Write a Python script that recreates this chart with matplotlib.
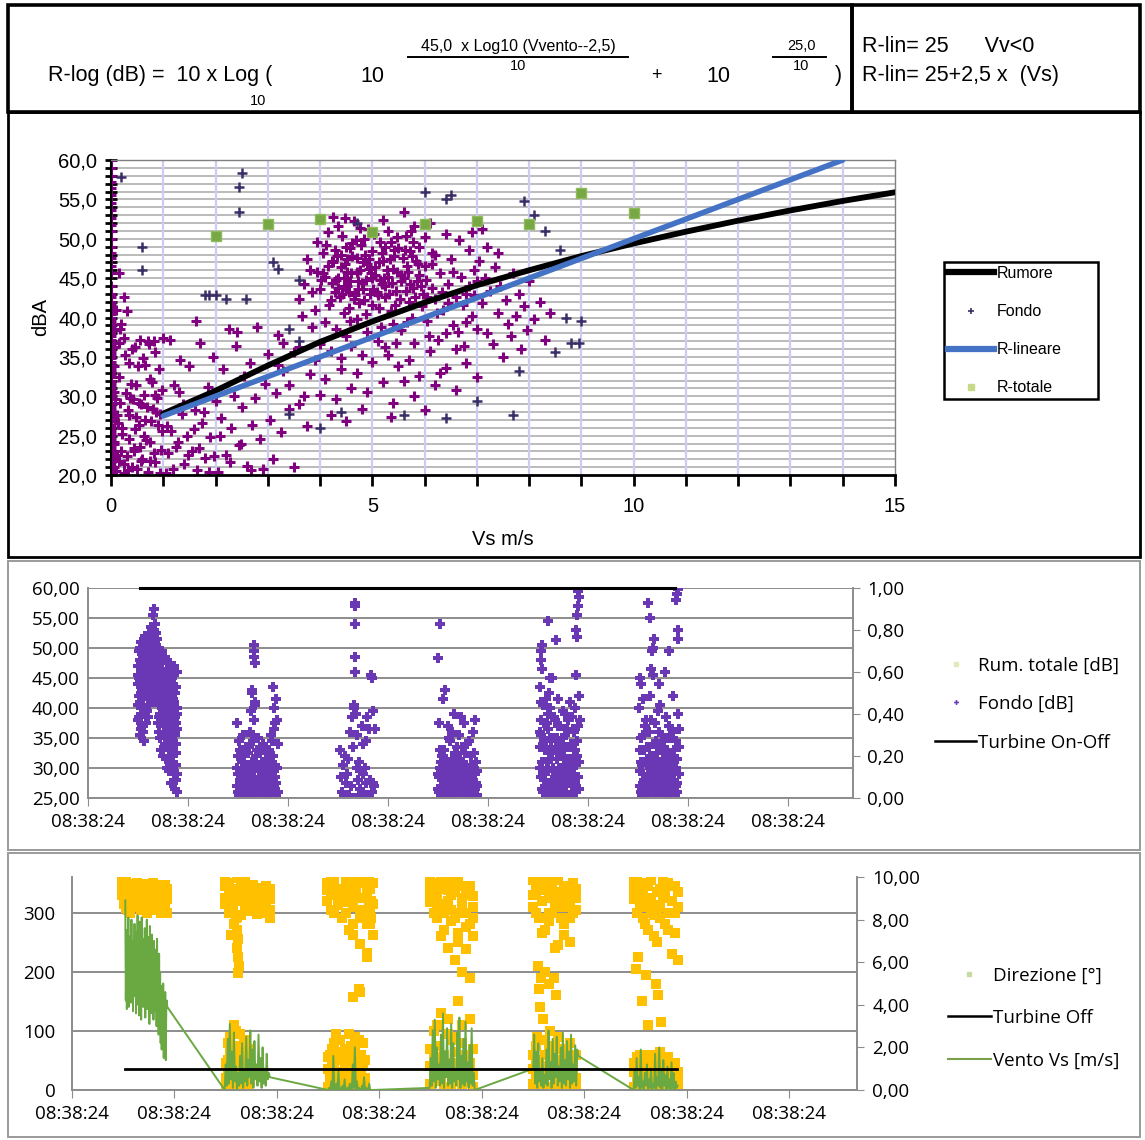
import numpy as np
import matplotlib
matplotlib.use('Agg')
import matplotlib.pyplot as plt
from matplotlib.lines import Line2D
from matplotlib.patches import Rectangle
from matplotlib.ticker import FuncFormatter, MultipleLocator

W, H = 1145, 1140

# ---------------------------------------------------------------- data: dB vs wind speed
vs_curve = [1, 2, 3, 4, 5, 6, 7, 8, 9, 10, 11, 12, 13, 14, 15]
rumore_db = [27.8, 30.7, 33.9, 36.9, 39.5, 41.9, 44.1, 46.0, 47.8, 49.4, 50.9, 52.3, 53.6, 54.8, 55.9]
rlin_vs = [1, 14]
rlin_db = [27.5, 60.0]
rtot_vs = [2, 3, 4, 5, 6, 7, 8, 9, 10]
rtot_db = [50.4, 51.9, 52.5, 50.8, 51.9, 52.2, 51.9, 55.8, 53.3]

col0_vs = 0.0
col0_db = [20.0, 20.4, 20.8, 21.2, 21.6, 22.0, 22.4, 22.8, 23.2, 23.6, 24.0, 24.4, 24.8, 25.2, 25.6,
           26.0, 26.4, 26.8, 27.2, 27.6, 28.0, 28.4, 28.8, 29.2, 29.6, 30.0, 30.4, 30.8, 31.2, 31.6,
           32.0, 32.4, 32.8, 33.2, 33.6, 34.0, 34.4, 34.8, 35.2, 35.6, 36.0, 36.4, 36.8, 37.2, 37.6,
           38.0, 38.4, 38.8, 39.2, 39.6, 40.0, 40.4, 40.8, 41.2, 41.6, 42.0, 42.6, 43.0, 44.0, 45.6,
           46.6, 47.6, 48.2, 49.0, 50.0, 51.0, 51.8, 52.6, 53.6, 54.6, 55.6, 56.4, 57.2, 58.0, 59.0, 60.0]

low_vs = [0.10, 0.15, 0.20, 0.25, 0.30, 0.35, 0.40, 0.45, 0.50, 0.55,
          0.60, 0.65, 0.70, 0.75, 0.80, 0.85, 0.90, 0.95, 0.12, 0.18,
          0.22, 0.28, 0.32, 0.38, 0.42, 0.48, 0.52, 0.58, 0.62, 0.68,
          0.72, 0.78, 0.82, 0.88, 0.92, 0.98, 0.15, 0.25, 0.35, 0.45,
          0.55, 0.65, 0.85, 0.20, 0.30, 0.15, 0.25, 0.10, 0.18, 0.40,
          1.05, 1.10, 1.15, 1.20, 1.25, 1.30, 1.35, 1.40, 1.45, 1.50,
          1.55, 1.60, 1.65, 1.70, 1.75, 1.80, 1.85, 1.90, 1.95, 2.00,
          2.05, 2.10, 2.15, 2.20, 2.25, 2.30, 2.35, 2.40, 2.45, 2.50,
          2.55, 2.60, 2.65, 2.70, 2.75, 2.80, 2.85, 2.90, 2.95, 3.00,
          3.05, 3.10, 3.15, 3.20, 3.25, 3.30, 3.40, 3.50, 3.60, 3.70,
          1.12, 1.32, 1.62, 2.42, 1.00, 0.70,
          0.05, 0.08, 0.12, 0.16, 0.22, 0.26, 0.33, 0.37, 0.44, 0.47,
          0.53, 0.57, 0.63, 0.67, 0.74, 0.77, 0.83, 0.87, 0.93, 0.97,
          0.14, 0.24, 0.34, 0.44, 0.54, 0.64, 0.74, 0.84, 0.94, 1.08,
          1.18, 1.28, 1.38, 1.48, 1.58, 1.68, 1.78, 1.88, 1.98, 2.08,
          2.28, 2.48, 2.68, 0.06, 0.06, 0.06, 0.06, 0.06, 0.06, 0.06]
low_db = [20.5, 21.8, 23.0, 20.2, 22.4, 24.6, 21.0, 25.8, 20.8, 23.6,
          22.0, 27.0, 20.4, 24.2, 28.4, 21.6, 26.4, 23.2, 27.6, 29.2,
          26.0, 30.4, 28.2, 31.6, 29.6, 27.4, 33.8, 29.0, 34.8, 28.6,
          36.6, 31.8, 37.0, 29.8, 33.4, 30.8, 36.8, 37.4, 34.2, 36.2,
          37.2, 34.0, 35.6, 39.2, 40.8, 45.6, 42.6, 41.0, 38.6, 36.0,
          20.2, 22.8, 25.6, 31.4, 23.6, 30.6, 27.8, 21.4, 25.0, 33.8,
          23.0, 28.2, 20.6, 36.8, 26.6, 22.2, 31.2, 24.8, 35.0, 29.4,
          20.4, 27.2, 33.4, 22.6, 38.6, 26.0, 30.0, 36.4, 23.8, 28.6,
          32.6, 21.2, 34.2, 26.4, 29.8, 38.8, 24.6, 20.8, 31.6, 35.4,
          27.0, 22.0, 30.4, 37.8, 25.4, 33.2, 28.4, 21.0, 36.2, 30.0,
          37.2, 34.6, 39.6, 38.2, 37.4, 37.0,
          24.0, 29.6, 22.6, 32.4, 25.2, 35.2, 20.6, 29.8, 23.4, 31.4,
          26.4, 21.8, 30.2, 24.4, 32.2, 26.8, 22.8, 28.0, 20.2, 25.6,
          26.6, 21.4, 27.6, 23.0, 29.2, 25.0, 21.8, 30.2, 27.8, 26.2,
          20.8, 24.2, 29.0, 22.6, 25.8, 23.4, 28.0, 20.4, 22.4, 25.0,
          21.6, 24.0, 20.6, 21.0, 24.2, 27.4, 30.6, 33.8, 36.2, 38.4]

cloud_vs = [3.60, 3.70, 3.80, 3.90, 4.00, 4.05, 4.10, 4.15, 4.20, 4.25,
            4.30, 4.35, 4.40, 4.45, 4.50, 4.55, 4.60, 4.65, 4.70, 4.75,
            4.80, 4.85, 4.90, 4.95, 5.00, 4.10, 4.30, 4.50, 4.70, 4.90,
            3.65, 3.85, 4.00, 4.20, 4.40, 4.60, 4.80, 3.75, 3.95, 4.25,
            4.45, 4.62, 4.78, 4.92, 4.15, 4.35, 4.55, 4.72, 4.88, 4.02,
            5.05, 5.10, 5.15, 5.20, 5.25, 5.30, 5.35, 5.40, 5.45, 5.50,
            5.55, 5.60, 5.65, 5.70, 5.75, 5.80, 5.85, 5.90, 5.95, 6.00,
            6.05, 6.10, 6.15, 6.20, 6.25, 6.30, 6.35, 6.40, 6.45, 6.50,
            6.55, 6.60, 6.65, 6.70, 6.75, 6.80, 6.85, 6.90, 6.95, 7.00,
            5.10, 5.30, 5.50, 5.70, 5.90, 6.10, 6.30, 5.20, 5.60, 5.80,
            6.00, 6.20, 6.40, 6.60, 6.80, 7.00, 5.40, 5.00, 5.25, 5.75,
            7.05, 7.10, 7.15, 7.20, 7.25, 7.30, 7.35, 7.40, 7.45, 7.50,
            7.55, 7.60, 7.65, 7.70, 7.75, 7.80, 7.85, 7.90, 7.95, 8.00,
            8.10, 8.20, 8.30, 8.40, 7.20, 7.40, 6.90, 7.10,
            3.20, 3.40, 3.60, 3.80, 4.00, 4.20, 4.40, 4.60, 4.80, 5.00,
            3.30, 3.50, 3.90, 4.10, 4.30, 4.50, 4.70, 4.90, 5.20, 5.40,
            5.60, 5.80, 6.00, 6.20, 6.40, 6.60, 6.80, 7.00, 3.75, 5.35,
            4.28, 4.38, 4.48, 4.58, 4.68, 4.82, 4.98, 5.08, 5.18, 5.28,
            5.38, 5.48, 5.58, 5.68, 5.78, 5.88, 4.42, 4.52, 4.66, 4.76,
            4.86, 4.96, 5.12, 5.22, 5.32, 5.42, 5.52, 5.62, 5.72, 5.82,
            4.05, 4.12, 4.22, 4.32, 4.42, 4.52, 4.62, 4.72, 4.84, 4.94,
            5.04, 5.14, 5.24, 5.34, 5.44, 5.54, 5.64, 5.74, 5.84, 5.94,
            6.04, 6.14, 6.24, 6.34, 6.44, 6.54, 6.64, 6.74, 6.84, 6.94,
            3.85, 3.95, 4.18, 4.48, 4.58, 5.02, 5.16, 5.46, 5.66, 6.08,
            4.22, 4.34, 4.46, 4.58, 4.70, 4.82, 4.94, 5.06, 5.18, 5.30,
            5.42, 5.54, 5.66, 5.78, 5.90, 6.02, 6.14, 4.28, 4.52, 4.76,
            5.00, 5.24, 5.48, 5.72, 5.96, 4.40, 4.64, 4.88, 5.12, 5.36]
cloud_db = [42.4, 44.2, 46.0, 41.0, 43.6, 48.2, 45.2, 50.8, 42.2, 47.0,
            44.8, 51.6, 46.4, 40.6, 49.0, 43.2, 45.6, 52.2, 47.6, 41.8,
            44.4, 50.0, 46.8, 43.0, 48.4, 39.4, 38.6, 37.6, 39.8, 38.2,
            40.2, 38.8, 36.6, 35.8, 34.8, 36.4, 35.2, 47.4, 49.6, 52.8,
            45.0, 47.8, 49.2, 51.2, 46.6, 43.8, 41.2, 43.6, 40.4, 44.8,
            45.4, 42.8, 49.6, 47.2, 44.0, 51.0, 40.8, 46.2, 43.4, 48.8,
            38.4, 45.0, 50.4, 42.0, 47.8, 36.8, 44.6, 49.0, 41.4, 46.6,
            39.6, 52.0, 43.8, 48.0, 37.2, 45.6, 41.0, 50.6, 44.2, 47.4,
            39.0, 42.6, 49.8, 45.2, 36.4, 43.0, 48.6, 40.2, 46.0, 38.6,
            37.0, 35.2, 33.8, 34.6, 32.6, 35.8, 33.0, 52.4, 53.4, 51.6,
            50.2, 42.4, 38.0, 36.0, 39.4, 44.6, 39.2, 41.6, 36.2, 40.0,
            47.2, 41.8, 45.0, 38.0, 43.4, 36.6, 46.4, 40.6, 44.0, 35.0,
            42.2, 39.2, 37.6, 45.6, 40.2, 43.0, 36.0, 41.4, 38.4, 44.6,
            39.8, 42.0, 37.2, 40.6, 49.0, 48.2, 50.8, 51.2,
            34.0, 31.4, 29.0, 32.8, 30.2, 27.6, 33.4, 31.0, 28.4, 34.4,
            36.8, 35.6, 34.6, 32.2, 29.6, 26.8, 33.0, 30.6, 31.8, 29.2,
            32.0, 30.0, 28.2, 31.4, 33.6, 30.8, 34.2, 32.4, 26.2, 27.4,
            48.6, 42.6, 46.8, 44.6, 49.8, 47.0, 45.6, 43.2, 48.2, 46.0,
            44.4, 50.2, 47.6, 45.8, 49.6, 46.8, 50.4, 44.0, 42.8, 51.4,
            48.0, 46.2, 41.2, 45.0, 43.0, 47.8, 42.4, 48.6, 44.2, 42.6,
            45.6, 49.2, 44.4, 47.8, 43.0, 45.8, 49.4, 44.6, 42.2, 46.2,
            50.6, 44.8, 49.0, 47.4, 41.6, 45.4, 43.4, 51.0, 47.2, 44.0,
            42.6, 46.8, 40.6, 43.2, 41.8, 45.8, 38.2, 41.6, 44.0, 42.8,
            43.2, 45.8, 41.6, 52.6, 39.6, 43.6, 38.8, 36.8, 39.4, 37.6,
            47.2, 45.0, 44.0, 48.8, 45.8, 43.6, 47.4, 46.4, 44.2, 45.2,
            48.6, 44.6, 46.6, 43.8, 45.4, 44.8, 48.2, 43.2, 47.4, 46.0,
            45.0, 42.6, 45.8, 48.4, 43.0, 48.0, 42.4, 44.8, 47.0, 49.6]

dark_vs = [0.20, 0.60, 0.60, 2.50, 2.45, 2.45, 3.10, 3.20, 3.60, 4.70,
           6.00, 6.40, 6.50, 7.90, 8.10, 8.30, 8.60, 8.70, 9.00, 8.95,
           8.50, 8.80, 7.80, 7.00, 7.70, 6.40, 5.60, 4.40, 4.00, 1.80,
           2.00, 2.20, 1.88, 2.58, 3.40, 3.60, 3.40]
dark_db = [57.8, 49.0, 46.0, 58.4, 56.6, 53.4, 47.0, 46.2, 44.8, 52.0,
           56.0, 55.0, 55.6, 54.8, 53.0, 51.0, 48.6, 40.0, 39.6, 36.8,
           35.6, 36.8, 33.2, 29.4, 27.6, 27.2, 27.6, 28.0, 26.0, 42.8,
           42.8, 42.4, 42.8, 42.4, 38.6, 37.0, 27.8]

# ---------------------------------------------------------------- data: time panels
time_labels = ['08:38:24', '08:38:24', '08:38:24', '08:38:24',
               '08:38:24', '08:38:24', '08:38:24', '08:38:24']

turb_on_t = [0.52, 5.87]
turb_on_v = [1.0, 1.0]
turb_off_t = [0.52, 5.90]
turb_off_v = [1.0, 1.0]

t_1a = [0.50, 0.51, 0.52, 0.53, 0.54, 0.55, 0.56, 0.57, 0.58, 0.59,
        0.60, 0.61, 0.62, 0.63, 0.64, 0.65, 0.66, 0.67, 0.68, 0.69]
db_1a = [[44.0, 49.5, 41.0, 47.5, 37.0, 50.5, 45.0, 43.0, 51.0, 39.5, 48.0, 52.5, 46.0, 53.5, 44.5, 55.5, 49.0, 54.0, 47.0, 51.5],
         [47.0, 38.5, 50.0, 42.5, 46.0, 36.0, 48.5, 40.0, 44.0, 47.5, 42.0, 45.5, 50.0, 41.0, 48.5, 46.0, 56.5, 43.5, 50.5, 45.0],
         [40.5, 45.0, 35.5, 51.0, 43.0, 46.5, 34.5, 49.0, 46.5, 43.0, 45.0, 40.5, 43.0, 49.5, 52.0, 42.5, 46.0, 51.0, 42.0, 48.0],
         [45.5, 42.0, 48.0, 39.0, 44.0, 41.5, 50.0, 47.0, 37.5, 45.5, 51.0, 43.0, 47.5, 52.0, 41.0, 50.0, 53.0, 46.5, 44.0, 49.0],
         [38.0, 47.0, 44.5, 36.5, 49.0, 43.5, 40.0, 52.0, 42.5, 49.5, 38.5, 48.5, 44.0, 45.5, 47.0, 53.0, 51.5, 48.5, 52.5, 43.5]]
t_1b = [0.70, 0.71, 0.72, 0.73, 0.74, 0.75, 0.76, 0.77, 0.78, 0.79,
        0.80, 0.81, 0.82, 0.83, 0.84, 0.85, 0.86, 0.87, 0.88, 0.89]
db_1b = [[50.0, 44.0, 47.5, 41.0, 49.5, 38.0, 45.5, 43.0, 48.0, 36.5, 42.0, 46.5, 39.0, 44.5, 35.0, 41.5, 47.0, 38.5, 43.5, 40.0],
         [42.5, 47.0, 39.0, 45.0, 35.5, 48.5, 41.0, 37.5, 44.0, 40.0, 33.5, 38.0, 43.0, 31.0, 37.0, 34.0, 45.5, 36.0, 32.5, 46.0],
         [46.0, 38.5, 43.5, 33.0, 42.0, 44.5, 36.0, 40.5, 31.5, 46.5, 38.5, 29.5, 35.5, 41.0, 33.0, 39.5, 29.0, 42.5, 28.0, 36.5],
         [37.5, 40.5, 35.0, 48.0, 39.0, 32.0, 46.0, 34.0, 38.5, 30.0, 44.0, 36.5, 31.5, 27.5, 43.5, 30.5, 38.0, 26.5, 34.0, 26.0],
         [44.5, 41.5, 49.0, 37.5, 46.0, 42.5, 39.5, 48.5, 35.0, 43.0, 40.5, 33.0, 47.5, 37.5, 45.0, 32.0, 41.0, 35.5, 30.5, 39.0],
         [48.5, 36.0, 45.5, 43.0, 40.5, 46.0, 33.5, 44.5, 42.0, 38.0, 46.0, 42.5, 36.5, 34.5, 39.5, 36.0, 32.5, 40.0, 37.5, 29.0]]
t_2a = [1.49, 1.50, 1.51, 1.52, 1.53, 1.54, 1.55, 1.56, 1.57, 1.58,
        1.59, 1.60, 1.61, 1.62, 1.63, 1.64, 1.65, 1.66, 1.67, 1.68]
db_2a = [[37.5, 32.0, 27.0, 29.5, 25.5, 31.0, 35.5, 26.5, 28.0, 33.5, 25.5, 30.0, 27.5, 36.0, 29.0, 42.5, 34.5, 38.0, 41.0, 30.5],
         [30.0, 26.0, 34.5, 28.0, 31.5, 26.5, 29.0, 32.5, 27.0, 25.5, 30.5, 28.5, 33.5, 27.0, 39.5, 31.0, 25.5, 49.5, 47.5, 26.5],
         [27.0, 29.0, 25.5, 33.0, 27.5, 29.5, 26.0, 31.0, 25.5, 28.5, 27.0, 32.5, 25.5, 29.5, 26.5, 35.5, 28.0, 30.0, 26.0, 32.0]]
t_2b = [1.69, 1.70, 1.71, 1.72, 1.73, 1.74, 1.75, 1.76, 1.77, 1.78,
        1.79, 1.80, 1.81, 1.82, 1.83, 1.84, 1.85, 1.86, 1.87, 1.88]
db_2b = [[28.0, 35.0, 26.0, 32.5, 29.5, 27.0, 34.0, 30.5, 25.5, 31.5, 28.5, 26.5, 33.0, 29.0, 35.5, 27.0, 43.5, 40.0, 37.5, 41.5],
         [33.0, 26.5, 29.5, 27.5, 25.5, 31.0, 26.0, 28.0, 30.0, 27.0, 25.5, 29.0, 26.5, 31.5, 27.5, 34.5, 30.0, 36.5, 28.5, 25.5],
         [26.0, 30.5, 27.5, 25.5, 28.5, 33.5, 27.0, 25.5, 29.0, 32.5, 26.5, 30.0, 28.0, 25.5, 30.5, 26.0, 32.0, 27.0, 30.5, 27.5]]
t_3 = [2.52, 2.53, 2.54, 2.55, 2.56, 2.57, 2.58, 2.59, 2.60, 2.61,
       2.62, 2.63, 2.64, 2.65, 2.66, 2.67, 2.68, 2.69, 2.70, 2.71,
       2.72, 2.73, 2.74, 2.75, 2.76, 2.77, 2.78, 2.79, 2.80, 2.81,
       2.82, 2.83, 2.84, 2.85, 2.86, 2.87, 2.67, 2.67, 2.67, 2.67]
db_3 = [33.0, 28.5, 26.0, 30.5, 25.5, 32.0, 27.5, 29.0, 31.5, 25.5,
        36.0, 27.0, 38.5, 33.5, 40.0, 57.5, 39.0, 35.5, 28.0, 31.0,
        26.5, 29.5, 37.0, 34.0, 25.5, 30.0, 27.5, 38.5, 25.5, 36.5,
        28.0, 45.5, 26.0, 39.5, 27.0, 36.5, 57.0, 54.0, 48.5, 46.0]
t_4a = [3.50, 3.51, 3.52, 3.53, 3.54, 3.55, 3.56, 3.57, 3.58, 3.59,
        3.60, 3.61, 3.62, 3.63, 3.64, 3.65, 3.66, 3.67, 3.68, 3.69]
db_4a = [[48.3, 37.5, 33.0, 27.0, 30.0, 41.5, 26.0, 43.0, 31.5, 28.5, 37.0, 25.5, 34.5, 29.0, 36.0, 27.5, 39.0, 30.5, 26.0, 33.5],
         [29.0, 26.0, 54.0, 31.0, 28.0, 25.5, 33.0, 29.5, 27.0, 25.5, 30.5, 35.0, 27.5, 26.0, 31.5, 28.0, 25.5, 32.5, 29.0, 27.5],
         [26.5, 28.5, 30.0, 25.5, 32.0, 27.0, 29.5, 25.5, 28.0, 30.5, 26.5, 29.0, 31.0, 25.5, 27.0, 30.0, 28.5, 26.0, 29.5, 31.5]]
t_4b = [3.70, 3.71, 3.72, 3.73, 3.74, 3.75, 3.76, 3.77, 3.78, 3.79,
        3.80, 3.81, 3.82, 3.83, 3.84, 3.85, 3.86, 3.87, 3.88, 3.89]
db_4b = [[28.0, 35.5, 25.5, 38.5, 31.0, 27.0, 37.5, 29.5, 26.0, 34.0, 30.0, 25.5, 28.5, 32.0, 27.0, 36.0, 29.0, 26.5, 31.0, 25.5],
         [31.0, 26.5, 29.5, 27.0, 33.5, 25.5, 28.5, 26.0, 30.5, 27.0, 25.5, 34.5, 29.5, 26.0, 28.0, 30.5, 25.5, 38.0, 27.5, 29.5],
         [26.0, 29.0, 31.5, 25.5, 28.0, 30.0, 26.5, 32.5, 28.5, 25.5, 29.0, 27.5, 25.5, 30.5, 26.5, 28.0, 32.5, 29.0, 25.5, 27.0]]
t_5a = [4.52, 4.53, 4.54, 4.55, 4.56, 4.57, 4.58, 4.59, 4.60, 4.61,
        4.62, 4.63, 4.64, 4.65, 4.66, 4.67, 4.68, 4.69, 4.70, 4.71]
db_5a = [[43.5, 38.0, 50.5, 29.0, 34.5, 26.5, 41.5, 31.0, 36.5, 27.5, 40.0, 33.5, 45.0, 29.5, 38.5, 26.0, 51.3, 35.0, 41.5, 30.0],
         [30.0, 35.5, 26.5, 40.5, 28.0, 33.0, 25.5, 37.5, 30.0, 42.5, 26.5, 31.5, 28.0, 35.0, 25.5, 33.0, 29.5, 27.0, 37.0, 25.5],
         [33.5, 28.5, 31.0, 26.0, 37.5, 29.0, 33.5, 27.0, 39.0, 31.5, 35.0, 25.5, 32.5, 30.0, 27.5, 38.0, 25.5, 31.5, 28.5, 34.0]]
t_5b = [4.72, 4.73, 4.74, 4.75, 4.76, 4.77, 4.78, 4.79, 4.80, 4.81,
        4.82, 4.83, 4.84, 4.85, 4.86, 4.87, 4.88, 4.89, 4.90, 4.91]
db_5b = [[37.0, 27.5, 33.0, 39.5, 28.5, 35.5, 26.0, 31.5, 38.0, 29.0, 41.0, 34.0, 27.0, 36.5, 32.0, 40.0, 53.0, 51.8, 57.0, 42.0],
         [29.5, 32.5, 25.5, 30.0, 27.0, 39.0, 33.5, 28.0, 25.5, 30.5, 27.5, 29.5, 31.0, 25.5, 36.0, 27.5, 30.5, 34.5, 28.5, 31.0],
         [33.0, 26.5, 30.0, 35.0, 31.5, 25.5, 29.5, 36.5, 27.5, 33.5, 29.0, 25.5, 38.5, 30.0, 28.5, 33.0, 26.5, 32.0, 37.0, 26.5]]
t_6a = [5.52, 5.53, 5.54, 5.55, 5.56, 5.57, 5.58, 5.59, 5.60, 5.61,
        5.62, 5.63, 5.64, 5.65, 5.66, 5.67, 5.68, 5.69, 5.70, 5.71]
db_6a = [[29.5, 35.0, 26.5, 41.5, 31.0, 27.5, 38.0, 33.5, 25.5, 36.0, 42.0, 30.0, 28.0, 45.5, 34.0, 37.5, 26.0, 32.5, 39.5, 44.0],
         [27.0, 31.0, 25.5, 29.0, 33.0, 26.0, 28.5, 30.5, 27.5, 25.5, 32.0, 26.0, 29.5, 27.0, 30.5, 25.5, 28.5, 26.5, 31.0, 27.5],
         [33.0, 26.0, 30.5, 35.5, 28.0, 37.0, 25.5, 31.0, 29.0, 33.5, 26.5, 38.0, 31.5, 34.0, 28.5, 30.0, 34.5, 29.5, 27.0, 36.0]]
t_6b = [5.72, 5.73, 5.74, 5.75, 5.76, 5.77, 5.78, 5.79, 5.80, 5.81,
        5.82, 5.83, 5.84, 5.85, 5.86, 5.87, 5.88, 5.89, 5.90, 5.91]
db_6b = [[40.5, 28.5, 35.5, 31.0, 27.0, 46.0, 29.5, 33.0, 25.5, 37.0, 30.5, 27.5, 35.0, 42.0, 28.0, 31.5, 34.5, 26.0, 51.5, 36.5],
         [30.0, 25.5, 27.5, 32.5, 26.0, 29.0, 25.5, 27.0, 30.0, 28.0, 25.5, 29.0, 26.5, 31.5, 27.0, 25.5, 30.0, 27.5, 53.0, 29.0],
         [27.5, 33.5, 30.0, 26.5, 34.5, 31.5, 38.5, 29.5, 35.0, 25.5, 32.0, 30.5, 28.0, 36.0, 33.0, 29.5, 27.0, 31.5, 39.0, 33.5]]
t_extra = [1.66, 1.66, 1.64, 1.67, 1.89, 1.90, 1.89, 1.90,
           2.66, 2.69, 2.71, 2.75, 2.78, 2.84, 2.85,
           4.53, 4.53, 4.54, 4.60, 4.62, 4.90, 4.91, 4.89, 4.88, 4.92, 4.53, 4.52,
           5.60, 5.62, 5.65, 5.64, 5.66, 5.63, 5.90, 5.89, 5.88, 5.81, 5.52, 5.51, 5.53]
db_extra = [50.5, 48.5, 43.0, 40.5, 38.0, 34.0, 30.0, 26.0,
            40.5, 30.0, 25.5, 29.0, 34.5, 45.0, 27.5,
            49.5, 48.0, 46.5, 54.5, 45.0, 59.5, 58.5, 55.5, 45.5, 38.0, 41.0, 36.0,
            57.5, 55.0, 50.0, 49.5, 51.5, 46.5, 59.8, 59.0, 58.0, 49.5, 45.0, 40.0, 44.0]

# wind direction (deg)
dir_t1 = [0.49, 0.51, 0.53, 0.55, 0.57, 0.59, 0.61, 0.63, 0.65, 0.67, 0.69, 0.71,
          0.73, 0.75, 0.77, 0.79, 0.81, 0.83, 0.85, 0.87, 0.89, 0.91, 0.93]
dir_1 = [[352, 340, 355, 330, 348, 338, 344, 350, 335, 346, 341, 349, 337, 345, 333, 350, 342, 347, 336, 344, 339, 346, 340],
         [330, 315, 322, 305, 318, 326, 310, 322, 314, 328, 318, 306, 324, 312, 320, 304, 316, 325, 308, 322, 314, 318, 300],
         [342, 325, 308, 335, 300, 312, 332, 336, 325, 305, 333, 320, 300, 330, 345, 318, 328, 308, 320, 300, 328, 306, 322]]
dir_t2u = [1.49, 1.53, 1.57, 1.61, 1.65, 1.69, 1.73, 1.77, 1.81, 1.85, 1.89, 1.93]
dir_2u = [[355, 350, 340, 358, 345, 352, 338, 347, 341, 330, 335, 322],
          [325, 338, 318, 330, 320, 312, 325, 315, 328, 310, 318, 305],
          [345, 300, 330, 292, 338, 326, 302, 340, 298, 322, 345, 290],
          [315, 348, 305, 340, 295, 355, 310, 330, 318, 300, 325, 340]]
dir_t2l = [1.50, 1.52, 1.54, 1.56, 1.58, 1.60, 1.62, 1.64, 1.66, 1.68, 1.70, 1.72, 1.74]
dir_2l = [[45, 80, 20, 60, 110, 10, 35, 95, 5, 55, 25, 70, 15],
          [5, 30, 65, 3, 40, 75, 15, 50, 2, 85, 30, 10, 45],
          [20, 50, 90, 30, 70, 100, 45, 10, 60, 25, 40, 5, 60]]
dir_t3u = [2.49, 2.53, 2.56, 2.60, 2.63, 2.67, 2.70, 2.74, 2.77, 2.81, 2.84, 2.88, 2.91, 2.94]
dir_3u = [[350, 330, 356, 312, 340, 300, 352, 280, 325, 246, 295, 232, 340, 262],
          [320, 352, 300, 340, 318, 335, 270, 310, 352, 290, 355, 225, 305, 350],
          [338, 305, 342, 325, 290, 355, 318, 262, 338, 305, 325, 345, 280, 315]]
dir_t3l = [2.50, 2.52, 2.54, 2.56, 2.58, 2.60, 2.62, 2.64, 2.66, 2.68,
           2.70, 2.72, 2.74, 2.76, 2.78, 2.80, 2.82, 2.84, 2.86]
dir_3l = [[35, 60, 10, 80, 25, 5, 50, 15, 70, 40, 95, 20, 60, 5, 30, 85, 10, 45, 20],
          [5, 20, 45, 2, 65, 30, 85, 8, 35, 3, 55, 10, 25, 75, 2, 40, 60, 5, 15],
          [55, 15, 70, 40, 95, 50, 20, 65, 10, 55, 25, 75, 40, 90, 55, 20, 35, 80, 50]]
dir_t4 = [3.49, 3.53, 3.56, 3.60, 3.63, 3.67, 3.70, 3.74, 3.77, 3.81, 3.84, 3.88, 3.91]
dir_4 = [[355, 330, 345, 300, 350, 320, 338, 290, 355, 310, 342, 280, 328],
         [318, 350, 290, 340, 270, 355, 305, 335, 250, 325, 300, 345, 260],
         [340, 300, 325, 260, 315, 240, 330, 220, 300, 200, 275, 190, 310],
         [332, 345, 310, 355, 300, 338, 285, 350, 265, 345, 238, 330, 290],
         [40, 100, 15, 130, 60, 5, 85, 30, 150, 10, 55, 120, 25],
         [10, 55, 75, 20, 35, 95, 3, 65, 40, 80, 15, 45, 5],
         [70, 25, 110, 50, 5, 120, 45, 90, 20, 110, 60, 30, 70]]
dir_t5 = [4.50, 4.53, 4.56, 4.59, 4.62, 4.65, 4.68, 4.71, 4.74, 4.77, 4.80, 4.83, 4.86, 4.89, 4.92]
dir_5 = [[355, 335, 348, 320, 352, 300, 340, 315, 355, 290, 345, 330, 310, 350, 325],
         [310, 350, 290, 340, 270, 325, 300, 355, 245, 335, 280, 315, 250, 300, 340],
         [330, 300, 355, 265, 338, 285, 352, 240, 325, 310, 262, 345, 290, 330, 305],
         [60, 20, 85, 40, 5, 70, 30, 15, 90, 50, 10, 65, 25, 45, 5],
         [10, 45, 5, 30, 60, 2, 40, 75, 20, 5, 35, 15, 55, 8, 20],
         [35, 75, 50, 15, 85, 25, 60, 45, 5, 70, 55, 30, 80, 35, 60]]
dir_t6 = [5.48, 5.51, 5.54, 5.57, 5.59, 5.62, 5.65, 5.68, 5.71, 5.74, 5.77, 5.79, 5.82, 5.85, 5.88, 5.91]
dir_6 = [[355, 340, 350, 330, 345, 320, 355, 312, 300, 340, 355, 335, 350, 320, 345, 310],
         [322, 300, 330, 290, 310, 270, 300, 260, 250, 290, 325, 280, 300, 230, 265, 220],
         [340, 355, 315, 350, 280, 345, 325, 295, 335, 310, 340, 350, 270, 345, 300, 335],
         [45, 20, 60, 10, 35, 55, 5, 40, 25, 65, 15, 50, 30, 5, 45, 20],
         [5, 35, 15, 50, 2, 25, 45, 8, 60, 3, 40, 10, 55, 20, 2, 30],
         [30, 55, 5, 40, 20, 60, 15, 50, 35, 10, 55, 25, 5, 40, 30, 10]]
dir_extra_t = [1.60, 1.61, 1.62, 1.61, 1.62, 1.63, 1.62, 1.58, 1.55,
               2.86, 2.88, 2.90, 2.92, 2.88, 2.90, 2.92, 2.74, 2.80, 2.81,
               4.55, 4.58, 4.56, 4.62, 4.65, 4.57, 4.60, 4.70, 4.72, 4.66, 4.54,
               5.50, 5.52, 5.60, 5.70, 5.72, 5.62, 5.75, 5.56]
dir_extra = [290, 270, 255, 240, 225, 210, 198, 280, 262,
             350, 330, 310, 290, 280, 355, 320, 158, 170, 165,
             210, 190, 170, 200, 180, 140, 120, 190, 160, 100, 90,
             205, 225, 195, 180, 160, 110, 115, 150]

# wind speed (m/s)
wind_t1 = [0.520, 0.525, 0.530, 0.535, 0.540, 0.545, 0.550, 0.555, 0.560, 0.565,
           0.570, 0.575, 0.580, 0.585, 0.590, 0.595, 0.600, 0.605, 0.610, 0.615,
           0.620, 0.625, 0.630, 0.635, 0.640, 0.645, 0.650, 0.655, 0.660, 0.665,
           0.670, 0.675, 0.680, 0.685, 0.690, 0.695, 0.700, 0.705, 0.710, 0.715,
           0.720, 0.725, 0.730, 0.735, 0.740, 0.745, 0.750, 0.755, 0.760, 0.765,
           0.770, 0.775, 0.780, 0.785, 0.790, 0.795, 0.800, 0.805, 0.810, 0.815,
           0.820, 0.825, 0.830, 0.835, 0.840, 0.845, 0.850, 0.855, 0.860, 0.865,
           0.870, 0.875, 0.880, 0.885, 0.890, 0.895, 0.900, 0.905, 0.910, 0.915,
           0.920, 0.925, 0.930]
wind_1 = [8.9, 4.2, 7.5, 3.8, 6.9, 4.8, 8.1, 3.9, 7.2, 5.0, 6.4, 4.1, 8.0, 4.6, 7.0, 3.7, 6.6, 5.2, 7.8, 4.4,
          6.1, 3.6, 7.4, 4.9, 8.2, 4.0, 6.8, 3.5, 7.9, 4.7, 6.3, 3.3, 8.1, 4.5, 7.1, 3.9, 6.0, 4.8, 7.6, 3.4,
          6.9, 4.3, 8.0, 3.8, 7.2, 4.6, 6.5, 3.1, 7.7, 4.0, 6.2, 3.6, 7.3, 4.2, 5.9, 3.3, 7.0, 4.4, 6.1, 3.7,
          6.6, 3.0, 7.1, 3.9, 5.8, 2.6, 6.4, 3.2, 5.5, 2.2, 4.9, 1.9, 4.4, 3.0, 5.0, 1.5, 4.0, 2.4, 4.6, 1.4,
          3.8, 4.2, 3.9]
wind_t2 = [1.49, 1.50, 1.51, 1.52, 1.53, 1.54, 1.55, 1.56, 1.57, 1.58,
           1.59, 1.60, 1.61, 1.62, 1.63, 1.64, 1.65, 1.66, 1.67, 1.68,
           1.69, 1.70, 1.71, 1.72, 1.73, 1.74, 1.75, 1.76, 1.77, 1.78,
           1.79, 1.80, 1.81, 1.82, 1.83, 1.84, 1.85, 1.86, 1.87, 1.88,
           1.89, 1.90, 1.91, 1.92, 1.93]
wind_2 = [0.0, 1.2, 0.2, 2.4, 0.3, 3.1, 0.5, 1.8, 0.1, 2.7, 0.4, 1.1, 0.0, 0.8, 0.2, 1.6, 0.3, 2.2, 0.1, 0.9,
          0.4, 2.5, 0.2, 1.4, 0.6, 2.8, 0.3, 1.9, 0.1, 2.3, 0.5, 1.2, 0.2, 2.6, 0.4, 1.5, 0.1, 2.0, 0.3, 1.0,
          0.2, 1.7, 0.5, 0.8, 0.6]
wind_t3 = [2.50, 2.51, 2.52, 2.53, 2.54, 2.55, 2.56, 2.57, 2.58, 2.59,
           2.60, 2.61, 2.62, 2.63, 2.64, 2.65, 2.66, 2.67, 2.68, 2.69,
           2.70, 2.71, 2.72, 2.73, 2.74, 2.75, 2.76, 2.77, 2.78, 2.79,
           2.80, 2.81, 2.82, 2.83, 2.84, 2.85, 2.86, 2.87, 2.88, 2.89,
           2.90, 2.91, 2.92, 2.93]
wind_3 = [0.0, 0.1, 0.0, 0.4, 0.0, 1.6, 0.1, 0.0, 0.3, 0.0, 0.9, 0.0, 0.1, 0.0, 0.2, 0.0, 0.5, 0.0, 0.0, 0.1,
          0.0, 0.3, 0.0, 0.0, 1.2, 0.1, 2.0, 0.0, 0.4, 0.0, 0.1, 0.0, 0.0, 0.2, 0.0, 0.6, 0.0, 0.1, 0.0, 0.0,
          0.3, 0.0, 0.0, 0.0]
wind_t4 = [3.49, 3.50, 3.51, 3.52, 3.53, 3.54, 3.55, 3.56, 3.57, 3.58,
           3.59, 3.60, 3.61, 3.62, 3.63, 3.64, 3.65, 3.66, 3.67, 3.68,
           3.69, 3.70, 3.71, 3.72, 3.73, 3.74, 3.75, 3.76, 3.77, 3.78,
           3.79, 3.80, 3.81, 3.82, 3.83, 3.84, 3.85, 3.86, 3.87, 3.88,
           3.89, 3.90, 3.91, 3.92, 3.93]
wind_4 = [0.1, 1.5, 0.2, 2.8, 0.4, 3.3, 0.1, 2.0, 0.5, 1.2, 0.2, 2.6, 0.3, 3.6, 0.1, 1.8, 0.6, 2.9, 0.2, 1.4,
          0.3, 3.1, 0.1, 2.2, 0.4, 1.0, 0.2, 2.7, 0.5, 3.4, 0.1, 1.6, 0.3, 2.4, 0.2, 3.2, 0.4, 1.3, 0.1, 2.1,
          0.3, 2.9, 0.2, 0.8, 0.0]
wind_t5 = [4.50, 4.51, 4.52, 4.53, 4.54, 4.55, 4.56, 4.57, 4.58, 4.59,
           4.60, 4.61, 4.62, 4.63, 4.64, 4.65, 4.66, 4.67, 4.68, 4.69,
           4.70, 4.71, 4.72, 4.73, 4.74, 4.75, 4.76, 4.77, 4.78, 4.79,
           4.80, 4.81, 4.82, 4.83, 4.84, 4.85, 4.86, 4.87, 4.88, 4.89,
           4.90, 4.91, 4.92, 4.93, 4.94]
wind_5 = [1.0, 2.6, 0.3, 1.8, 0.1, 2.2, 0.4, 1.0, 0.2, 1.5, 0.1, 0.7, 0.3, 1.9, 0.2, 2.8, 0.5, 1.3, 0.1, 2.4,
          0.3, 1.7, 0.6, 2.5, 0.2, 1.1, 0.4, 2.0, 0.1, 2.7, 0.3, 1.4, 0.2, 2.3, 0.5, 1.8, 0.1, 2.6, 0.3, 1.2,
          0.4, 2.1, 0.2, 1.9, 1.6]
wind_t6 = [5.48, 5.49, 5.50, 5.51, 5.52, 5.53, 5.54, 5.55, 5.56, 5.57,
           5.58, 5.59, 5.60, 5.61, 5.62, 5.63, 5.64, 5.65, 5.66, 5.67,
           5.68, 5.69, 5.70, 5.71, 5.72, 5.73, 5.74, 5.75, 5.76, 5.77,
           5.78, 5.79, 5.80, 5.81, 5.82, 5.83, 5.84, 5.85, 5.86, 5.87,
           5.88, 5.89, 5.90, 5.91]
wind_6 = [0.0, 0.9, 0.1, 1.5, 0.2, 0.6, 0.0, 1.9, 0.1, 0.4, 0.0, 0.8, 0.2, 1.2, 0.0, 0.5, 0.1, 1.0, 0.0, 0.3,
          0.1, 1.7, 0.0, 0.6, 0.2, 2.0, 0.1, 0.9, 0.0, 1.4, 0.2, 0.7, 0.0, 1.1, 0.1, 0.5, 0.0, 1.3, 0.1, 0.8,
          0.0, 0.4, 0.1, 0.2]

# ---------------------------------------------------------------- styles
ARIAL = 'Liberation Sans'
CALI = 'Open Sans'
PURPLE = '#800080'
DARK = '#3b2e68'
VIOLET = '#6a38b4'
BLUE = '#4472c4'
GREEN_SQ = '#77a843'
ORANGE = '#ffc000'
WIND = '#6aa842'
GRID = '#8c8c8c'

fig = plt.figure(figsize=(W / 100, H / 100), dpi=100)
fig.patch.set_facecolor('white')


def px_axes(x0, y0, x1, y1, **kw):
    return fig.add_axes([x0 / W, 1 - y1 / H, (x1 - x0) / W, (y1 - y0) / H], **kw)


def comma(fmt):
    return FuncFormatter(lambda v, p: format(v, fmt).replace('.', ','))


# ── scatter dB vs Vs ─────────────────────────────────────────────────────
ax = px_axes(111, 160, 895, 475)
ax.set_xlim(0, 15)
ax.set_ylim(20, 60)
for v in range(21, 60):
    ax.axhline(v, color='#a8a8a8', lw=1.1, zorder=0)
for v in range(1, 15):
    ax.axvline(v, color='#cdcdf4', lw=1.6, zorder=0.5)

pk = dict(ls='none', marker='+', ms=7, mew=2.2, zorder=2)
ax.plot(np.full(len(col0_db), col0_vs), col0_db, color=PURPLE, **pk)
ax.plot(low_vs, low_db, color=PURPLE, **pk)
ax.plot(cloud_vs, cloud_db, color=PURPLE, **pk)
ax.plot(dark_vs, dark_db, color=DARK, ls='none', marker='+', ms=6.5, mew=1.8, zorder=2)
ax.plot(vs_curve, rumore_db, color='black', lw=4.2, solid_capstyle='round', zorder=3)
ax.plot(rlin_vs, rlin_db, color=BLUE, lw=4.0, solid_capstyle='round', zorder=3.5)
ax.plot(rtot_vs, rtot_db, ls='none', marker='s', ms=7, color=GREEN_SQ, mec='#8fbc5a', zorder=4)

ax.set_xticks(range(16))
ax.set_xticklabels([str(i) if i % 5 == 0 else '' for i in range(16)])
ax.set_yticks(range(20, 61, 5))
ax.yaxis.set_major_formatter(comma('.1f'))
ax.yaxis.set_minor_locator(MultipleLocator(1))
ax.tick_params(axis='x', direction='out', length=8, width=2, labelsize=14.5, pad=8)
ax.tick_params(axis='y', which='both', direction='inout', length=8, width=2, labelsize=14.5, pad=6)
for lab in ax.get_xticklabels() + ax.get_yticklabels():
    lab.set_family(ARIAL)
ax.spines['left'].set_linewidth(1.5)
ax.spines['bottom'].set_linewidth(2)
for s in ('top', 'right'):
    ax.spines[s].set_color('#808080')
    ax.spines[s].set_linewidth(1)
ax.set_xlabel('Vs m/s', family=ARIAL, fontsize=14.5, labelpad=10)
ax.set_ylabel('dBA', family=ARIAL, fontsize=14.5, labelpad=6)

h_sc = [Line2D([], [], color='black', lw=4.5),
        Line2D([], [], ls='none', marker='+', ms=4, mew=1.2, color=DARK),
        Line2D([], [], color=BLUE, lw=4.5),
        Line2D([], [], ls='none', marker='s', ms=4, color='#c6da8a')]
leg = ax.legend(h_sc, ['Rumore', 'Fondo', 'R-lineare', 'R-totale'],
                loc='upper left', bbox_to_anchor=(944 / W, 1 - 413 / H, 154 / W, 151 / H),
                bbox_transform=fig.transFigure, mode='expand', borderaxespad=0,
                frameon=True, fancybox=False, edgecolor='black', framealpha=1,
                prop={'family': ARIAL, 'size': 11.5}, labelspacing=1.45,
                handlelength=2.9, handletextpad=0.15, borderpad=0.25)
leg.get_frame().set_linewidth(1.8)

# ── time panel: noise ─────────────────────────────────────────────────────
ax2 = px_axes(88, 588, 853, 798)
ax2.set_xlim(0, 7.65)
ax2.set_ylim(25, 60)
ax2.set_yticks(range(25, 61, 5))
ax2.yaxis.set_major_formatter(comma('.2f'))
ax2.grid(axis='y', color=GRID, lw=1.4)
ax2.set_axisbelow(True)
ax2.set_xticks(range(8))
ax2.set_xticklabels(time_labels)

mk = dict(ls='none', marker='P', ms=6.5, mew=0, color=VIOLET, zorder=2)
for t, rows in ((t_1a, db_1a), (t_1b, db_1b), (t_2a, db_2a), (t_2b, db_2b),
                (t_4a, db_4a), (t_4b, db_4b), (t_5a, db_5a), (t_5b, db_5b),
                (t_6a, db_6a), (t_6b, db_6b)):
    for row in rows:
        ax2.plot(t, row, **mk)
ax2.plot(t_3, db_3, **mk)
ax2.plot(t_extra, db_extra, **mk)

ax2r = ax2.twinx()
ax2r.set_ylim(0, 1)
ax2r.set_yticks(np.arange(0, 1.01, 0.2))
ax2r.yaxis.set_major_formatter(comma('.2f'))
ax2r.plot(turb_on_t, turb_on_v, color='black', lw=2.2, clip_on=False, zorder=3)

for a in (ax2, ax2r):
    a.spines['top'].set_visible(False)
    for s in ('left', 'right', 'bottom'):
        a.spines[s].set_color(GRID)
        a.spines[s].set_linewidth(1.2)
ax2.tick_params(axis='x', direction='out', length=6, color=GRID, labelsize=13.5, pad=5)
ax2.tick_params(axis='y', length=0, labelsize=13.5, pad=6)
ax2r.tick_params(axis='y', direction='out', length=5, color=GRID, labelsize=13.5, pad=5)
for lab in ax2.get_xticklabels() + ax2.get_yticklabels() + ax2r.get_yticklabels():
    lab.set_family(CALI)

h_mid = [Line2D([], [], ls='none', marker='s', ms=3, color='#e3eab8'),
         Line2D([], [], ls='none', marker='P', ms=3.5, mew=0, color=VIOLET),
         Line2D([], [], color='black', lw=1.8)]
fig.legend(h_mid, ['Rum. totale [dB]', 'Fondo [dB]', 'Turbine On-Off'],
           loc='center left', bbox_to_anchor=(918 / W, 1 - 704 / H), frameon=False,
           prop={'family': CALI, 'size': 13.5}, labelspacing=1.1,
           handlelength=2.2, handletextpad=0.1)

# ── time panel: wind ──────────────────────────────────────────────────────
ax3 = px_axes(72, 877, 857, 1090)
ax3.set_xlim(0, 7.66)
ax3.set_ylim(0, 360)
ax3.set_yticks([0, 100, 200, 300])
ax3.grid(axis='y', color=GRID, lw=1.4)
ax3.set_axisbelow(True)
ax3.set_xticks(range(8))
ax3.set_xticklabels(time_labels)

ok = dict(ls='none', marker='s', ms=6.5, mew=0, color=ORANGE, zorder=2)
for t, rows in ((dir_t1, dir_1), (dir_t2u, dir_2u), (dir_t2l, dir_2l), (dir_t3u, dir_3u),
                (dir_t3l, dir_3l), (dir_t4, dir_4), (dir_t5, dir_5), (dir_t6, dir_6)):
    for row in rows:
        ax3.plot(t, row, **ok)
ax3.plot(dir_extra_t, dir_extra, **ok)

ax3r = ax3.twinx()
ax3r.set_ylim(0, 10)
ax3r.set_yticks(range(0, 11, 2))
ax3r.yaxis.set_major_formatter(comma('.2f'))
wind_t = wind_t1 + wind_t2 + wind_t3 + wind_t4 + wind_t5 + wind_t6
wind_v = wind_1 + wind_2 + wind_3 + wind_4 + wind_5 + wind_6
ax3r.plot(wind_t, wind_v, color=WIND, lw=1.4, zorder=3)
ax3r.plot(turb_off_t, turb_off_v, color='black', lw=2, zorder=4)

for a in (ax3, ax3r):
    a.spines['top'].set_visible(False)
    for s in ('left', 'right', 'bottom'):
        a.spines[s].set_color(GRID)
        a.spines[s].set_linewidth(1.2)
ax3.tick_params(axis='x', direction='out', length=6, color=GRID, labelsize=13.5, pad=5)
ax3.tick_params(axis='y', length=0, labelsize=13.5, pad=12)
ax3r.tick_params(axis='y', direction='out', length=5, color=GRID, labelsize=13.5, pad=6)
for lab in ax3.get_xticklabels() + ax3.get_yticklabels() + ax3r.get_yticklabels():
    lab.set_family(CALI)

h_bot = [Line2D([], [], ls='none', marker='s', ms=3, color='#c5dba3'),
         Line2D([], [], color='black', lw=1.8),
         Line2D([], [], color='#7aa04a', lw=1.5)]
fig.legend(h_bot, ['Direzione [°]', 'Turbine Off', 'Vento Vs [m/s]'],
           loc='center left', bbox_to_anchor=(931 / W, 1 - 1018 / H), frameon=False,
           prop={'family': CALI, 'size': 13.5}, labelspacing=1.3,
           handlelength=2.3, handletextpad=0.1)

# ── frames and formula header ─────────────────────────────────────────────
ov = fig.add_axes([0, 0, 1, 1], zorder=20)
ov.set_xlim(0, W)
ov.set_ylim(H, 0)
ov.axis('off')
ov.patch.set_alpha(0)
ov.add_patch(Rectangle((8, 5), 844, 107, fill=False, lw=2.6, ec='black'))
ov.add_patch(Rectangle((852, 5), 288, 107, fill=False, lw=2.6, ec='black'))
ov.add_patch(Rectangle((8, 112), 1132, 445, fill=False, lw=2.0, ec='black'))
ov.add_patch(Rectangle((8, 561), 1132, 289, fill=False, lw=1.4, ec='#9a9a9a'))
ov.add_patch(Rectangle((8, 853), 1132, 284, fill=False, lw=1.4, ec='#9a9a9a'))

tk = dict(family=ARIAL, va='center')
ov.text(48, 76, 'R-log (dB) =  10 x Log (', fontsize=15.5, **tk)
ov.text(258, 101, '10', fontsize=10.5, ha='center', **tk)
ov.text(372, 76, '10', fontsize=15.5, ha='center', **tk)
ov.text(518, 46, '45,0  x Log10 (Vvento--2,5)', fontsize=11.5, ha='center', **tk)
ov.plot([408, 628], [57, 57], color='black', lw=1.4)
ov.text(518, 66, '10', fontsize=10.5, ha='center', **tk)
ov.text(656, 76, '+', fontsize=13, ha='center', **tk)
ov.text(718, 76, '10', fontsize=15.5, ha='center', **tk)
ov.text(801, 46, '25,0', fontsize=10.5, ha='center', **tk)
ov.plot([773, 826], [57, 57], color='black', lw=1.4)
ov.text(801, 66, '10', fontsize=10.5, ha='center', **tk)
ov.text(838, 76, ')', fontsize=15.5, ha='center', **tk)
ov.text(862, 47, 'R-lin= 25      Vv<0', fontsize=15.5, **tk)
ov.text(862, 75, 'R-lin= 25+2,5 x  (Vs)', fontsize=15.5, **tk)

fig.savefig('out.png', dpi=100, facecolor='white')
